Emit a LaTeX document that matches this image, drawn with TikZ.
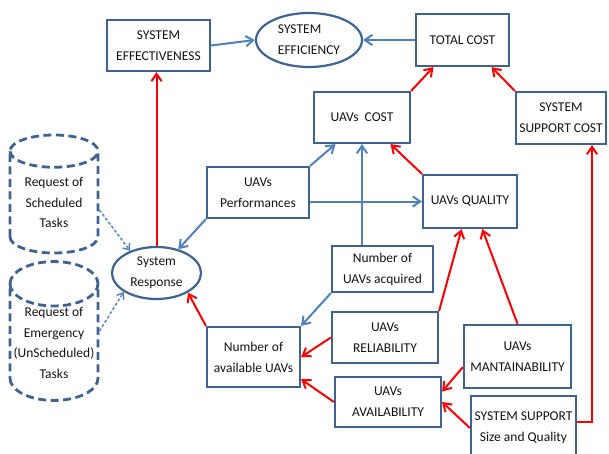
\documentclass[tikz,border=0pt]{standalone}
\usepackage{fontspec}
\setmainfont{Carlito}
\usetikzlibrary{arrows.meta,shapes.geometric}
\definecolor{frame}{RGB}{62,98,145}
\definecolor{link}{RGB}{79,129,189}
\definecolor{cause}{RGB}{255,0,0}
\definecolor{ink}{RGB}{20,20,20}

\begin{document}
\begin{tikzpicture}[x=1pt,y=-1pt,
  box/.style={draw=frame,line width=2.2pt,fill=white,align=center,text=ink,
    font=\fontsize{13.5}{21}\selectfont,inner sep=2pt},
  oval/.style={box,ellipse},
  tank/.style={box,cylinder,shape border rotate=90,aspect=0.55,fill=none,anchor=shape center,
    inner sep=0pt,font=\fontsize{13.5}{20.5}\selectfont,
    line width=2.8pt,dash pattern=on 8pt off 4.5pt},
  blu/.style={link,line width=2pt,-{Straight Barb[length=2.6mm,width=3.6mm]}},
  rd/.style={cause,line width=2pt,-{Straight Barb[length=2.6mm,width=3.6mm]}},
  req/.style={link,line width=1.4pt,dash pattern=on 3pt off 2pt,
    -{Straight Barb[length=2mm,width=3mm]}}]
\useasboundingbox (0,0) rectangle (609,454);
\clip (0,0) rectangle (609,454);

% top row
\node[box,minimum width=103pt,minimum height=51pt] (eff) at (158.5,45.5) {SYSTEM\\EFFECTIVENESS};
\node[oval,align=left,minimum width=106pt,minimum height=54pt] (effic) at (309,40) {SYSTEM\\EFFICIENCY};
\node[box,minimum width=93pt,minimum height=52pt] (tot) at (462.5,40) {TOTAL COST};
\node[box,minimum width=96pt,minimum height=51pt] (ucost) at (362,117.5) {UAVs\ \ COST};
\node[box,minimum width=90pt,minimum height=52pt] (sscost) at (561,118) {SYSTEM\\SUPPORT COST};

% middle
\node[box,minimum width=102pt,minimum height=51pt] (perf) at (258,192.5) {UAVs\\Performances};
\node[box,minimum width=94pt,minimum height=53pt] (qual) at (470,201.5) {UAVs QUALITY};
\node[oval,minimum width=89pt,minimum height=52pt] (resp) at (156.5,273) {System\\Response};
\node[box,minimum width=101pt,minimum height=46pt] (acq) at (382.5,269) {Number of\\UAVs acquired};

% requests
\node[tank,minimum width=88pt,minimum height=118pt] (req1) at (54,194) {Request of\\Scheduled\\Tasks};
\node[tank,minimum width=88pt,minimum height=118pt] (req2) at (54,331) {Request of\\Emergency\\(UnScheduled)\\Tasks};

% bottom
\node[box,minimum width=106pt,minimum height=51pt] (rel) at (385,337.5) {UAVs\\RELIABILITY};
\node[box,minimum width=93pt,minimum height=60pt] (avail) at (253.5,357) {Number of\\available UAVs};
\node[box,minimum width=107pt,minimum height=63pt] (mant) at (517.5,356.5) {UAVs\\MANTAINABILITY};
\node[box,minimum width=106pt,minimum height=50pt] (uavail) at (388,402) {UAVs\\AVAILABILITY};
\node[box,minimum width=105pt,minimum height=64pt] (ssq) at (523.5,428) {SYSTEM SUPPORT\\Size and Quality};

% blue links
\draw[blu] (eff.east) -- (effic.west);
\draw[blu] (tot.west) -- (effic.east);
\draw[blu] (perf.north east) -- (ucost.225);
\draw[blu] (perf.east |- qual) -- (qual.west);
\draw[blu] (perf.south west) -- (resp);
\draw[blu] (ucost.south |- acq.north) -- (ucost.south);
\draw[blu] (acq.south west) -- (avail.north east);
\draw[req] ([yshift=-16pt]req1.shape center -| req1.east) -- (resp.140);
\draw[req] (req2.shape center -| req2.east) -- (resp.210);

% red links
\draw[rd] (resp.north) -- (resp.north |- eff.south);
\draw[rd] (ucost.north east) -- (tot.223);
\draw[rd] (sscost.north west) -- (tot.-43);
\draw[rd] (qual.north west) -- (ucost.-43);
\draw[rd] (rel.north east) -- (qual.253);
\draw[rd] (mant.north) -- (qual.-66);
\draw[rd] (avail.north west) -- (resp.-32);
\draw[rd] (rel.west) -- (avail.east);
\draw[rd] (uavail.west) -- (avail.-25);
\draw[rd] (mant.191) -- (uavail.11);
\draw[rd] (ssq.west) -- (uavail.east);
\draw[rd] ([yshift=6pt]ssq.east) -| ([xshift=31pt]sscost.south);
\end{tikzpicture}
\end{document}
